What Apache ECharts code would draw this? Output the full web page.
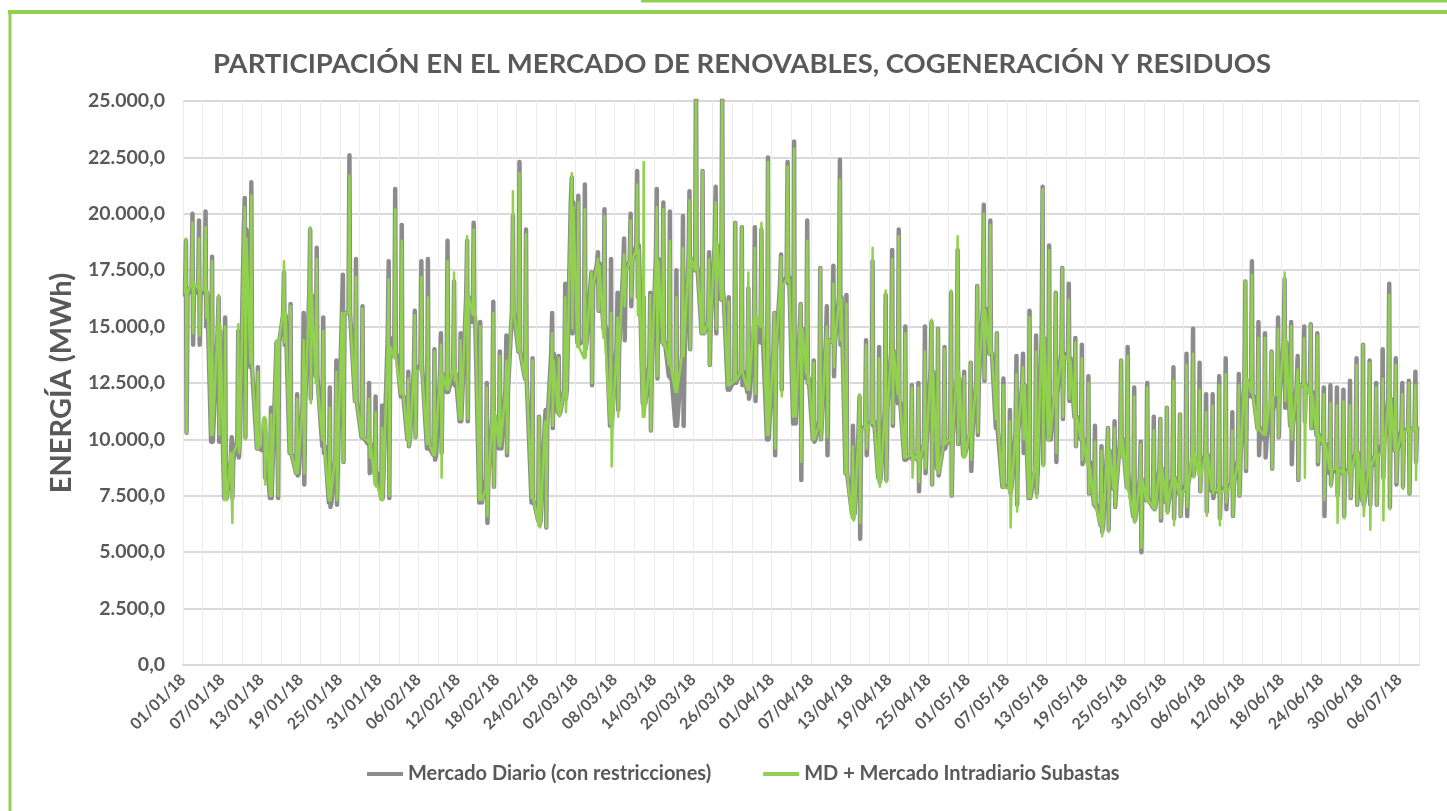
<!DOCTYPE html>
<html>
<head>
<meta charset="utf-8">
<title>Participación en el mercado</title>
<script src="https://cdn.jsdelivr.net/npm/echarts/dist/echarts.min.js"></script>
<style>
  html, body { margin: 0; padding: 0; background: #fff; }
  #chart { width: 1447px; height: 811px; }
</style>
</head>
<body>
<div id="chart"></div>
<script>
// etiquetas del eje X, una cada 6 días (01/01/18 -> 06/07/18)
const tickLabels = [
  "01/01/18", "07/01/18", "13/01/18", "19/01/18", "25/01/18", "31/01/18",
  "06/02/18", "12/02/18", "18/02/18", "24/02/18", "02/03/18", "08/03/18",
  "14/03/18", "20/03/18", "26/03/18", "01/04/18", "07/04/18", "13/04/18",
  "19/04/18", "25/04/18", "01/05/18", "07/05/18", "13/05/18", "19/05/18",
  "25/05/18", "31/05/18", "06/06/18", "12/06/18", "18/06/18", "24/06/18",
  "30/06/18", "06/07/18",
];

// Mercado Diario (con restricciones): máximo, mínimo y nivel medio de cada día (MWh)
const mdHi = [
  18800, 20000, 19700, 20100, 18100, 16300, 15400, 10100, 14800, 20700,
  21400, 13200, 10900, 11400, 14300, 17400, 16000, 12000, 15600, 19300,
  18500, 15400, 12300, 13500, 17300, 22600, 18000, 15900, 12500, 11900,
  11500, 17900, 21100, 19500, 13000, 15700, 17900, 18000, 14000, 14700,
  18800, 17000, 14700, 18800, 19600, 15200, 12500, 16100, 13900, 14600,
  19900, 22300, 19300, 13600, 11000, 11300, 15600, 13700, 16900, 21600,
  20800, 21300, 17400, 18300, 20200, 18000, 16500, 18900, 20000, 21900,
  16300, 16500, 21100, 20500, 20100, 17500, 19900, 21000, 26000, 21900,
  18300, 21200, 26000, 16300, 19600, 19400, 16700, 19400, 19300, 22500,
  15600, 18200, 22300, 23200, 16000, 19700, 13500, 17600, 15900, 17700,
  22400, 16400, 10600, 11900, 14400, 17900, 14100, 16400, 18400, 19300,
  15000, 12400, 12500, 15000, 15200, 14900, 14100, 16500, 18400, 13000,
  13400, 16800, 20400, 19700, 14700, 12700, 11300, 13700, 13800, 15700,
  14600, 21200, 18600, 16500, 17600, 16900, 14500, 14200, 12800, 10600,
  9700, 10500, 10800, 13500, 14100, 12300, 9900, 12500, 11000, 10900,
  11400, 13200, 11100, 13800, 14900, 13400, 12000, 12000, 12800, 13600,
  11200, 12900, 17000, 17900, 15200, 14700, 13900, 15400, 17100, 15200,
  13700, 15000, 15100, 14700, 12300, 12400, 12300, 12200, 12600, 13600,
  14200, 13500, 12500, 14000, 16900, 13600, 12500, 12600, 13000,
];
const mdLo = [
  10300, 14200, 14200, 15000, 9900, 9900, 7600, 7400, 9200, 10100,
  13200, 9600, 8300, 7400, 7400, 14200, 9400, 8400, 8000, 11800,
  12800, 9400, 7000, 7100, 9000, 15600, 11700, 10100, 8500, 8000,
  7400, 7400, 13800, 12000, 9700, 10100, 13300, 10000, 9100, 9400,
  12100, 12400, 10800, 10800, 15500, 7400, 6300, 7900, 9700, 9300,
  15700, 13900, 12700, 7300, 6200, 6100, 10500, 11100, 11800, 14700,
  14200, 14000, 12400, 15700, 15100, 10600, 11300, 14400, 15900, 16300,
  11700, 10400, 12700, 14200, 12700, 10600, 10600, 14000, 17700, 15100,
  13300, 14700, 16600, 12200, 12500, 12400, 11800, 11700, 14500, 10000,
  9300, 12200, 16900, 11300, 8200, 12500, 9900, 10000, 9300, 12800,
  14200, 8500, 6800, 5600, 9300, 10600, 8100, 8200, 10600, 11700,
  9100, 9100, 7700, 8500, 8000, 8400, 9600, 7500, 9800, 9300,
  8600, 10200, 12600, 13900, 10500, 8000, 7600, 7100, 9400, 7400,
  7600, 8900, 10100, 9000, 10900, 11700, 9700, 8900, 7600, 7000,
  5900, 6000, 7000, 9300, 8500, 6400, 5000, 7400, 6900, 6400,
  6800, 6500, 6600, 6600, 8400, 7700, 6800, 7400, 6500, 6900,
  6600, 7500, 8600, 12000, 9300, 9200, 8700, 10100, 11400, 8900,
  8200, 10800, 10500, 8900, 6600, 8000, 7500, 6600, 7400, 7100,
  7100, 7100, 7100, 8300, 7000, 8000, 7900, 7600, 9000,
];
const mdMid = [
  16400, 16800, 16500, 16500, 9900, 14800, 7400, 9100, 10000, 19300,
  13200, 9600, 9500, 7400, 14300, 15500, 9400, 8500, 11700, 16400,
  12800, 9700, 7200, 9200, 15600, 15600, 11700, 10100, 9800, 8500,
  7400, 14500, 13700, 11900, 10000, 13100, 13300, 9600, 9300, 12900,
  12100, 12900, 10800, 16300, 15200, 7200, 8300, 11000, 9600, 12200,
  15700, 13900, 12700, 7200, 6400, 10600, 13800, 11200, 12200, 20500,
  14300, 14300, 16800, 17800, 14900, 10600, 14100, 17500, 17900, 18600,
  11600, 13300, 18000, 14300, 12800, 10600, 13700, 18000, 17500, 14700,
  15200, 18600, 16200, 12200, 12600, 13000, 12100, 15000, 14300, 10000,
  14000, 16900, 17200, 10700, 14900, 12700, 10000, 10800, 14400, 14300,
  16300, 8500, 6700, 10400, 10600, 10800, 8300, 11300, 13900, 11600,
  9100, 9300, 9100, 9800, 13000, 8700, 9800, 10000, 12700, 9300,
  10200, 12600, 15800, 13800, 10500, 7900, 7900, 10300, 12400, 7400,
  8600, 14500, 10000, 12000, 13800, 13600, 11000, 10000, 9000, 7100,
  6200, 9500, 7800, 10000, 7900, 6600, 8200, 7300, 7000, 8700,
  7200, 8300, 7600, 8000, 9000, 8800, 9300, 7700, 7700, 7900,
  8000, 9100, 12600, 11900, 10500, 10000, 11300, 12000, 14300, 10600,
  12400, 12400, 12100, 10200, 9800, 8500, 8700, 8500, 8700, 9400,
  7300, 8700, 9300, 9800, 11800, 9500, 10400, 10400, 10500,
];

// MD + Mercado Intradiario Subastas
const idHi = [
  18900, 19600, 18900, 19400, 17900, 16400, 15000, 9400, 15100, 20300,
  20800, 13000, 11000, 11100, 14400, 17900, 15900, 11800, 14400, 19400,
  18000, 14800, 11400, 13000, 15600, 21700, 17200, 15800, 11800, 11200,
  10500, 17100, 20200, 18800, 12700, 15500, 17200, 16300, 13900, 14200,
  17900, 17400, 14400, 19000, 19300, 15000, 12300, 15600, 13700, 13500,
  21000, 21800, 19100, 13500, 11000, 10800, 14700, 13600, 16300, 21800,
  20500, 20200, 17400, 18000, 19900, 15600, 15400, 18200, 19700, 21300,
  22300, 16400, 20300, 20200, 18800, 16300, 18500, 20600, 26000, 21900,
  18000, 20500, 26000, 16100, 19600, 19400, 17400, 18500, 19600, 22300,
  15600, 18100, 22100, 22900, 16000, 18800, 13400, 17600, 15000, 16900,
  21500, 16000, 9700, 12000, 14200, 18500, 13600, 16600, 18000, 19000,
  14700, 12300, 12300, 13900, 15300, 14900, 14000, 16600, 19000, 12800,
  13400, 16800, 20000, 19500, 14700, 12400, 10800, 12900, 13200, 15400,
  13900, 21100, 18400, 16500, 17600, 16200, 14300, 13600, 12500, 9900,
  9500, 10500, 10500, 13500, 13700, 11900, 9800, 12300, 10400, 10900,
  11400, 12600, 11100, 13300, 13800, 12200, 11200, 11500, 12400, 12900,
  10400, 12400, 17000, 17300, 14500, 14500, 13900, 14900, 17400, 15000,
  13100, 14500, 15100, 14600, 12000, 11600, 11500, 11700, 11500, 13300,
  14200, 13400, 12300, 12700, 16400, 13300, 12000, 12500, 12400,
];
const idLo = [
  10300, 14700, 14600, 15400, 10200, 10200, 7400, 6300, 9400, 10000,
  13400, 9600, 8000, 7500, 7500, 14300, 9400, 8500, 8500, 11600,
  12500, 10000, 7300, 7300, 9000, 15600, 11700, 10100, 9200, 7900,
  7300, 7500, 13600, 12500, 9700, 10100, 13100, 10100, 9300, 8300,
  12200, 12600, 10900, 10900, 15800, 7500, 6600, 7900, 9700, 9400,
  15800, 13900, 12700, 7400, 6100, 6100, 10600, 11000, 11200, 14900,
  14100, 13600, 12500, 15700, 14500, 8800, 11000, 15900, 16300, 15500,
  11000, 10400, 12800, 14100, 13300, 12100, 13700, 14000, 17800, 15100,
  13300, 14900, 16600, 12400, 12600, 13000, 12200, 12000, 15200, 10200,
  9600, 11900, 17000, 11600, 9000, 12500, 10000, 10000, 10100, 13200,
  14400, 8500, 6400, 6300, 9600, 10700, 7900, 8100, 10700, 12000,
  9200, 8300, 8100, 8700, 8000, 8500, 9800, 7500, 9800, 9200,
  9100, 10300, 12700, 14000, 10900, 7900, 6100, 6800, 10000, 7400,
  7400, 8800, 10000, 9400, 11000, 11800, 9700, 9100, 7600, 7100,
  5700, 5900, 7000, 9200, 7800, 6300, 5200, 7200, 6900, 6500,
  6700, 6200, 6600, 7000, 8300, 7700, 6600, 7600, 6200, 7200,
  6600, 7500, 8700, 12100, 10500, 10200, 8700, 10100, 11700, 10000,
  8200, 8300, 10500, 9000, 7300, 7900, 6300, 6500, 7400, 7100,
  6600, 6000, 7100, 6400, 6900, 8100, 7800, 7600, 8200,
];
const idMid = [
  16500, 16900, 16700, 16600, 10200, 15100, 7300, 9400, 9800, 18900,
  13400, 9600, 10900, 7500, 14400, 15600, 9400, 8500, 11600, 16500,
  12500, 10000, 7300, 9300, 15600, 15600, 11700, 10100, 9900, 8000,
  7300, 14100, 13600, 12000, 10000, 13000, 13100, 9800, 9300, 12900,
  12200, 13100, 10900, 16300, 15500, 7300, 7800, 11200, 9700, 12100,
  15800, 13900, 12700, 7400, 6300, 10600, 13500, 11200, 12200, 20300,
  14100, 13600, 16800, 17700, 14500, 10700, 14000, 17400, 17900, 18400,
  11000, 13300, 17900, 14300, 13300, 12100, 13700, 18000, 17500, 14700,
  15200, 18700, 16200, 12400, 12600, 13000, 12200, 15500, 15000, 10200,
  14000, 16800, 17100, 11000, 14900, 12900, 10000, 10700, 14400, 14300,
  16200, 8500, 6500, 10400, 10500, 10800, 8200, 11200, 13900, 12000,
  9200, 9300, 9100, 9800, 13000, 8700, 9800, 10000, 13000, 9200,
  10400, 12700, 15700, 13800, 10900, 7900, 7800, 10300, 12400, 7400,
  8900, 14600, 10000, 12200, 13700, 13500, 11000, 10000, 8800, 7100,
  6200, 9500, 7800, 10000, 7800, 6600, 8200, 7300, 7000, 8700,
  7200, 8300, 7600, 7800, 9400, 8400, 9300, 7800, 7700, 7700,
  8000, 9000, 12700, 12100, 10400, 10200, 11900, 12000, 14400, 10500,
  12400, 12400, 12000, 10200, 9800, 8700, 8700, 8500, 8600, 9400,
  7300, 8800, 9300, 9400, 11800, 9500, 10300, 10400, 10500,
];

const textColor = "#595959";
const font = "Lato";

// cada día se dibuja como un trazo casi vertical: medio -> máximo -> mínimo -> medio
function dayPath(hi, lo, mid) {
  const pts = [];
  for (let d = 0; d < hi.length; d++) {
    pts.push([d + 0.3, mid[d]]);
    pts.push([d + 0.45, hi[d]]);
    pts.push([d + 0.55, lo[d]]);
    pts.push([d + 0.7, mid[d]]);
  }
  return pts;
}

// 25000 -> "25.000,0"
function fmtEs(v) {
  const s = String(Math.round(v)).replace(/\B(?=(\d{3})+(?!\d))/g, ".");
  return s + ",0";
}

const chart = echarts.init(document.getElementById("chart"));

const options = {
  backgroundColor: "#fff",
  animation: false,
  title: {
    text: "PARTICIPACIÓN EN EL MERCADO DE RENOVABLES, COGENERACIÓN Y RESIDUOS",
    left: 737,
    top: 45,
    textAlign: "center",
    textStyle: {
      fontFamily: font,
      fontWeight: "bold",
      fontSize: 27.5,
      color: textColor,
    },
  },
  legend: {
    left: 362,
    top: 759,
    itemWidth: 36,
    itemHeight: 4,
    itemGap: 52,
    icon: "rect",
    textStyle: {
      fontFamily: font,
      fontWeight: "bold",
      fontSize: 20,
      color: textColor,
    },
    data: ["Mercado Diario (con restricciones)", "MD + Mercado Intradiario Subastas"],
  },
  grid: {
    left: 183,
    right: 28,
    top: 101,
    bottom: 146,
  },
  xAxis: {
    type: "value",
    min: 0,
    max: 189,
    interval: 3,
    axisLine: { show: true, lineStyle: { color: "#d9d9d9", width: 2 } },
    axisTick: { show: false },
    splitLine: { show: true, lineStyle: { color: "#ebebeb", width: 1 } },
    axisLabel: {
      rotate: 45,
      margin: 12,
      fontFamily: font,
      fontWeight: "bold",
      fontSize: 16,
      color: textColor,
      showMaxLabel: true,
      formatter: (v) => (v % 6 === 0 ? tickLabels[v / 6] || "" : ""),
    },
  },
  yAxis: {
    type: "value",
    min: 0,
    max: 25000,
    interval: 2500,
    name: "ENERGÍA (MWh)",
    nameLocation: "middle",
    nameGap: 107,
    nameTextStyle: {
      fontFamily: font,
      fontWeight: "bold",
      fontSize: 29,
      color: textColor,
    },
    axisLine: { show: false },
    axisTick: { show: false },
    splitLine: { lineStyle: { color: "#d9d9d9", width: 2 } },
    axisLabel: {
      margin: 18,
      fontFamily: font,
      fontWeight: "bold",
      fontSize: 19.5,
      color: textColor,
      formatter: fmtEs,
    },
  },
  series: [
    {
      name: "Mercado Diario (con restricciones)",
      type: "line",
      data: dayPath(mdHi, mdLo, mdMid),
      showSymbol: false,
      clip: true,
      color: "#8c8c8c",
      lineStyle: { color: "#8c8c8c", width: 4.5, cap: "round", join: "round" },
    },
    {
      name: "MD + Mercado Intradiario Subastas",
      type: "line",
      data: dayPath(idHi, idLo, idMid),
      showSymbol: false,
      clip: true,
      color: "#92d050",
      lineStyle: { color: "#92d050", width: 2.5, cap: "round", join: "round" },
    },
  ],
  // marco verde del gráfico
  graphic: [
    { type: "line", shape: { x1: 641, y1: 1, x2: 1447, y2: 1 }, style: { stroke: "#92d050", lineWidth: 3 } },
    { type: "line", shape: { x1: 8, y1: 12, x2: 1447, y2: 12 }, style: { stroke: "#92d050", lineWidth: 4 } },
    { type: "line", shape: { x1: 10, y1: 10, x2: 10, y2: 811 }, style: { stroke: "#92d050", lineWidth: 3 } },
  ],
};

chart.setOption(options);
window.addEventListener("resize", () => {
  chart.resize();
});
</script>
</body>
</html>
